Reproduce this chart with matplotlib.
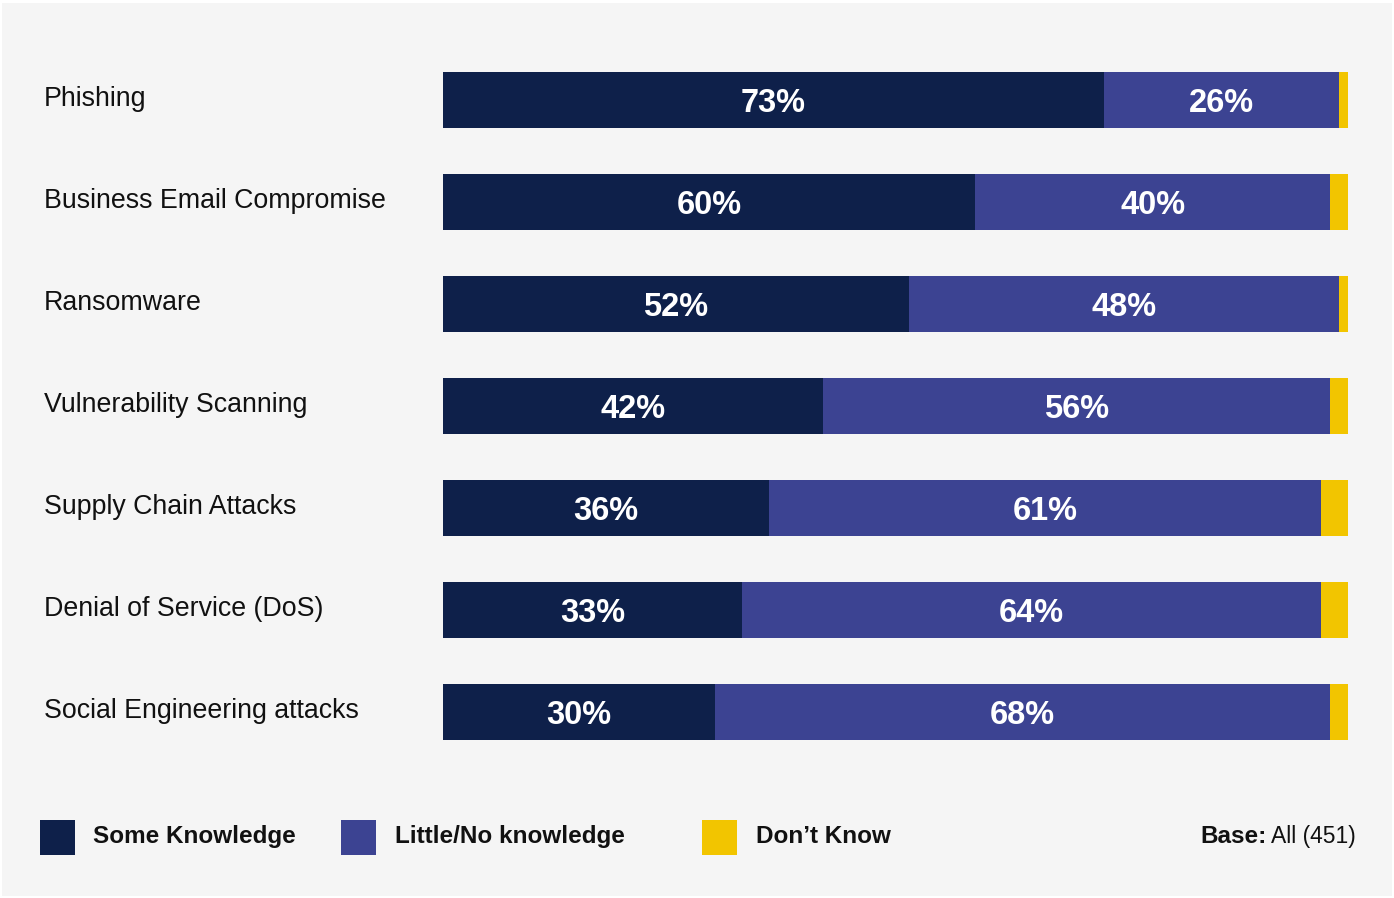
import matplotlib
matplotlib.use("Agg")
import matplotlib.pyplot as plt
from matplotlib.patches import Rectangle

plt.rcParams['font.family'] = ['Liberation Sans', 'DejaVu Sans']

categories = [
    "Phishing",
    "Business Email Compromise",
    "Ransomware",
    "Vulnerability Scanning",
    "Supply Chain Attacks",
    "Denial of Service (DoS)",
    "Social Engineering attacks",
]
some_knowledge = [73, 60, 52, 42, 36, 33, 30]
little_knowledge = [26, 40, 48, 56, 61, 64, 68]
dont_know = [1, 2, 1, 2, 3, 3, 2]

series_names = ["Some Knowledge", "Little/No knowledge", "Don\u2019t Know"]
colors = ["#0e204a", "#3c4392", "#f2c500"]

W, H = 1394, 898
fig = plt.figure(figsize=(W / 100, H / 100), dpi=100, facecolor="white")

# grey panel inside a thin white frame
fig.patches.append(Rectangle((2 / W, 2 / H), (W - 4) / W, (H - 5) / H,
                             transform=fig.transFigure, facecolor="#f5f5f5",
                             edgecolor="none", zorder=-5))

def px(x, y):
    return x / W, 1 - y / H

# bar area
ax_l, ax_r, ax_t, ax_b = 443, 1348, 49, 763
ax = fig.add_axes([ax_l / W, 1 - ax_b / H, (ax_r - ax_l) / W, (ax_b - ax_t) / H])
ax.set_facecolor("none")

rows = range(len(categories))
for i in rows:
    vals = [some_knowledge[i], little_knowledge[i], dont_know[i]]
    total = sum(vals)
    left = 0
    for j, v in enumerate(vals):
        w = v / total
        ax.barh(i, w, left=left, height=0.55, color=colors[j], edgecolor="none")
        if j < 2:
            ax.text(left + w / 2, i + 0.03, f"{v}%", ha="center", va="center",
                    color="white", fontsize=23.5, fontweight="bold")
        left += w
    # category label on the left
    fig.text(44 / W, 1 - (106 + 102 * i) / H, categories[i],
             ha="left", va="baseline", fontsize=19.3, color="#111111")

ax.set_xlim(0, 1)
ax.set_ylim(len(categories) - 0.5, -0.5)
ax.axis("off")

# legend
legend_x = [(40, 93), (341, 395), (702, 756)]
for (sx, tx), name, c in zip(legend_x, series_names, colors):
    fig.patches.append(Rectangle(px(sx, 855), 35 / W, 35 / H,
                                 transform=fig.transFigure, facecolor=c,
                                 edgecolor="none"))
    fig.text(tx / W, 1 - 843 / H, name, ha="left", va="baseline",
             fontsize=17.5, fontweight="bold", color="#111111")

t = fig.text(1356 / W, 1 - 843 / H, "All (451)", ha="right", va="baseline",
             fontsize=16.5, color="#111111")
fig.canvas.draw()
bb = t.get_window_extent()
fig.text((bb.x0 - 5) / W, 1 - 843 / H, "Base:", ha="right", va="baseline",
         fontsize=17.5, fontweight="bold", color="#111111")

fig.savefig("out.png", dpi=100, facecolor=fig.get_facecolor())
